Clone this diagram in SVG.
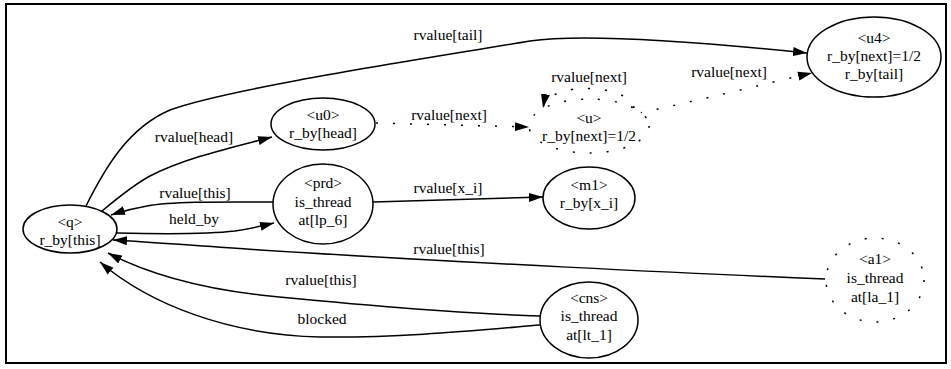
<svg xmlns="http://www.w3.org/2000/svg" width="951" height="369" viewBox="0 0 951 369">
  <style>
    text { font-family: "Liberation Serif", "Times New Roman", serif; font-size: 15.5px; fill: #000; text-anchor: middle; }
    .node { fill: #fff; stroke: #000; stroke-width: 1.5; }
    .dotted { stroke-dasharray: 2 15; }
    .edge { fill: none; stroke: #000; stroke-width: 1.5; }
  </style>
  <defs>
    <marker id="arrow" markerUnits="userSpaceOnUse" viewBox="0 0 14 10" refX="14" refY="5" markerWidth="14" markerHeight="10" orient="auto">
      <path d="M0,0.5 L14,5 L0,9.5 Z" fill="#000"/>
    </marker>
  </defs>

  <rect x="6" y="4" width="940" height="359" fill="#fff" stroke="#000" stroke-width="2"/>

  <g id="edges">
    <path class="edge" d="M86,206 C105,168 128,128 170,110 C230,88 430,58 530,41 C590,32 720,44 807,53" marker-end="url(#arrow)"/>
    <text x="448" y="40">rvalue[tail]</text>

    <path class="edge" d="M102,211 C120,196 135,184 150,176 C185,158 230,148 272,137" marker-end="url(#arrow)"/>
    <text x="194" y="142">rvalue[head]</text>

    <path class="edge" d="M273,202 C230,202 175,201 147,206 C135,208 123,211 111,215" marker-end="url(#arrow)"/>
    <text x="195" y="198">rvalue[this]</text>

    <path class="edge" d="M117,233 C160,234 210,234 235,231 C248,229 262,226 274,223" marker-end="url(#arrow)"/>
    <text x="194" y="224">held_by</text>

    <path class="edge" d="M825,279 C700,274 450,262 260,250 C200,246 150,242 113,240" marker-end="url(#arrow)"/>
    <text x="449" y="254">rvalue[this]</text>

    <path class="edge" d="M373,202 L543,197" marker-end="url(#arrow)"/>
    <text x="448" y="193">rvalue[x_i]</text>

    <path class="edge" d="M540,316 C470,314 360,305 260,295 C200,288 150,275 108,253" marker-end="url(#arrow)"/>
    <text x="321" y="285">rvalue[this]</text>

    <path class="edge" d="M540,325 C480,330 400,338 320,337 C230,335 150,305 100,262" marker-end="url(#arrow)"/>
    <text x="322" y="324">blocked</text>

    <path class="edge dotted" d="M376,123 L529,127" marker-end="url(#arrow)"/>
    <text x="449" y="120">rvalue[next]</text>

    <path class="edge dotted" d="M634,108 C630,84 548,80 543,108" marker-end="url(#arrow)"/>
    <text x="589" y="82">rvalue[next]</text>

    <path class="edge dotted" d="M640,113 C700,100 760,85 812,73" marker-end="url(#arrow)"/>
    <text x="729" y="77">rvalue[next]</text>
  </g>

  <g id="q">
    <ellipse class="node" cx="70" cy="229" rx="47" ry="24"/>
    <text x="70" y="227">&lt;q&gt;</text>
    <text x="70" y="245">r_by[this]</text>
  </g>

  <g id="u0">
    <ellipse class="node" cx="323" cy="124" rx="52" ry="26"/>
    <text x="323" y="120">&lt;u0&gt;</text>
    <text x="323" y="138">r_by[head]</text>
  </g>

  <g id="prd">
    <ellipse class="node" cx="323" cy="204" rx="50" ry="40"/>
    <text x="323" y="188">&lt;prd&gt;</text>
    <text x="323" y="207">is_thread</text>
    <text x="323" y="225">at[lp_6]</text>
  </g>

  <g id="u">
    <ellipse class="node dotted" cx="589" cy="126" rx="60" ry="27"/>
    <text x="589" y="123">&lt;u&gt;</text>
    <text x="589" y="141">r_by[next]=1/2</text>
  </g>

  <g id="m1">
    <ellipse class="node" cx="589" cy="198" rx="46" ry="31"/>
    <text x="589" y="190">&lt;m1&gt;</text>
    <text x="589" y="208">r_by[x_i]</text>
  </g>

  <g id="cns">
    <ellipse class="node" cx="589" cy="320" rx="49" ry="38"/>
    <text x="589" y="303">&lt;cns&gt;</text>
    <text x="589" y="321">is_thread</text>
    <text x="589" y="340">at[lt_1]</text>
  </g>

  <g id="u4">
    <ellipse class="node" cx="874" cy="57" rx="67" ry="40"/>
    <text x="874" y="43">&lt;u4&gt;</text>
    <text x="874" y="61">r_by[next]=1/2</text>
    <text x="874" y="79">r_by[tail]</text>
  </g>

  <g id="a1">
    <ellipse class="node dotted" cx="875" cy="280" rx="49" ry="42"/>
    <text x="875" y="264">&lt;a1&gt;</text>
    <text x="875" y="283">is_thread</text>
    <text x="875" y="302">at[la_1]</text>
  </g>
</svg>
